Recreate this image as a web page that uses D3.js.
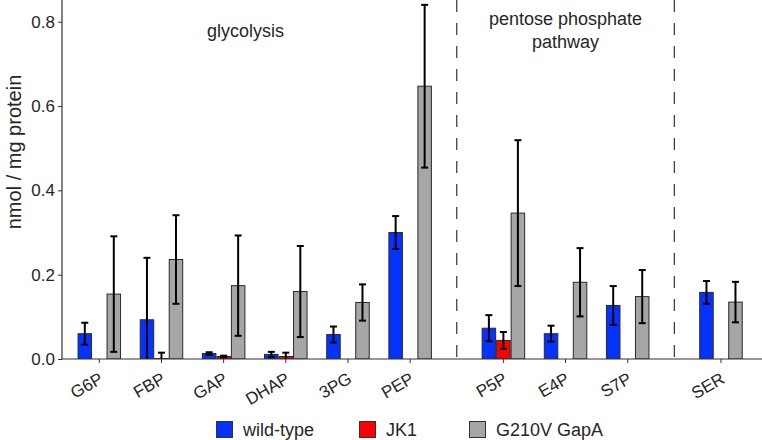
<!DOCTYPE html>
<html><head><meta charset="utf-8">
<script src="https://cdn.jsdelivr.net/npm/d3@7"></script>
<style>body{margin:0;background:#fff}svg{display:block}text{font-family:"Liberation Sans",Arial,sans-serif;fill:#262626}</style>
</head><body><div id="chart"></div>
<script>
const categories = ["G6P","FBP","GAP","DHAP","3PG","PEP","P5P","E4P","S7P","SER"];
const pathway    = ["glycolysis","glycolysis","glycolysis","glycolysis","glycolysis","glycolysis","ppp","ppp","ppp","other"];
const seriesNames = ["wild-type","JK1","G210V GapA"];
const wildType    = [0.060,0.093,0.013,0.011,0.058,0.300,0.073,0.060,0.127,0.158];
const wildTypeErr = [0.026,0.147,0.003,0.006,0.019,0.039,0.031,0.019,0.046,0.027];
const jk1         = [null,0.001,0.006,0.006,null,null,0.044,null,null,null];
const jk1Err      = [null,0.014,0.002,0.009,null,null,0.020,null,null,null];
const gapA        = [0.154,0.236,0.174,0.160,0.134,0.647,0.346,0.182,0.148,0.135];
const gapAErr     = [0.137,0.105,0.119,0.108,0.043,0.193,0.173,0.081,0.063,0.048];
const yTicks = [0,0.2,0.4,0.6,0.8];
const colors = ["#0433FF","#FF0000","#A6A6A6"];

const W=762,H=440;
const L=62,R=762,T=0,B=359;
const svg=d3.select("#chart").append("svg").attr("width",W).attr("height",H);

// positions: half-slot gap between pathway groups
const pos=[];let p=0;
categories.forEach((c,i)=>{ if(i>0){ p+=1; if(pathway[i]!==pathway[i-1]) p+=0.5; } pos.push(p); });
const x=d3.scaleLinear().domain([-0.6,10.66]).range([L,R]);
const y=d3.scaleLinear().domain([0,0.8515]).range([B,T]);

const series=[wildType,jk1,gapA], errs=[wildTypeErr,jk1Err,gapAErr];
const dodge=0.2333;
const bw=x(dodge)-x(0);

svg.append("defs").append("clipPath").attr("id","clip").append("rect")
  .attr("x",L).attr("y",T).attr("width",R-L).attr("height",B-T);
const plot=svg.append("g").attr("clip-path","url(#clip)");

// separators
const seps=[];
for(let i=1;i<categories.length;i++) if(pathway[i]!==pathway[i-1]) seps.push((pos[i]+pos[i-1])/2);
plot.selectAll(".sep").data(seps).enter().append("line")
  .attr("x1",d=>x(d)).attr("x2",d=>x(d)).attr("y1",T).attr("y2",B)
  .attr("stroke","#333").attr("stroke-width",1.2).attr("stroke-dasharray","12,11");

series.forEach((s,k)=>{
  const data=categories.map((c,i)=>({i,v:s[i],e:errs[k][i]})).filter(d=>d.v!=null);
  const off=(k-1)*dodge;
  plot.selectAll(".bar"+k).data(data).enter().append("rect")
    .attr("x",d=>x(pos[d.i]+off)-bw/2+0.5).attr("width",bw-1)
    .attr("y",d=>y(d.v)).attr("height",d=>y(0)-y(d.v))
    .attr("fill",colors[k]).attr("stroke","#2a2a2a").attr("stroke-width",1);
  const eg=plot.selectAll(".err"+k).data(data).enter().append("g").attr("stroke","#000").attr("stroke-width",2);
  eg.append("line").attr("x1",d=>x(pos[d.i]+off)).attr("x2",d=>x(pos[d.i]+off))
    .attr("y1",d=>y(d.v+d.e)).attr("y2",d=>y(d.v-d.e));
  [1,-1].forEach(sg=>{
    eg.append("line").attr("x1",d=>x(pos[d.i]+off)-3.5).attr("x2",d=>x(pos[d.i]+off)+3.5)
      .attr("y1",d=>y(d.v+sg*d.e)).attr("y2",d=>y(d.v+sg*d.e));
  });
});

// axes
const yAxis=svg.append("g").attr("transform",`translate(${L},0)`)
  .call(d3.axisLeft(y).tickValues(yTicks).tickFormat(d3.format(".1f")).tickSize(4).tickPadding(3));
yAxis.select(".domain").remove();
yAxis.selectAll("line").attr("stroke","#333");
yAxis.selectAll("text").attr("font-size",17).style("fill","#262626").attr("font-family","Liberation Sans, Arial, sans-serif");
svg.append("line").attr("x1",L).attr("x2",L).attr("y1",T).attr("y2",B+0.5).attr("stroke","#333").attr("stroke-width",1.2);
svg.append("line").attr("x1",L).attr("x2",R).attr("y1",B).attr("y2",B).attr("stroke","#333").attr("stroke-width",1.2);

const xt=svg.append("g");
xt.selectAll("line").data(categories).enter().append("line")
  .attr("x1",(d,i)=>x(pos[i])).attr("x2",(d,i)=>x(pos[i])).attr("y1",B).attr("y2",B+4).attr("stroke","#333");
xt.selectAll("text").data(categories).enter().append("text")
  .attr("transform",(d,i)=>`translate(${x(pos[i])+5},382) rotate(-30)`)
  .attr("text-anchor","end").attr("font-size",17).text(d=>d);

// y label
svg.append("text").attr("transform",`translate(21,152) rotate(-90)`).attr("text-anchor","middle")
  .attr("font-size",20).text("nmol / mg protein");

// annotations
svg.append("text").attr("x",x(2.35)).attr("y",37).attr("text-anchor","middle").attr("font-size",18).text("glycolysis");
svg.append("text").attr("x",x(pos[7])).attr("y",25).attr("text-anchor","middle").attr("font-size",18).text("pentose phosphate");
svg.append("text").attr("x",x(pos[7])).attr("y",48).attr("text-anchor","middle").attr("font-size",18).text("pathway");

// legend
const lx=[216,359,469];
const lg=svg.append("g");
seriesNames.forEach((n,k)=>{
  lg.append("rect").attr("x",lx[k]+0.5).attr("y",421.5).attr("width",16).attr("height",16)
    .attr("fill",colors[k]).attr("stroke","#333").attr("stroke-width",1);
  lg.append("text").attr("x",lx[k]+27).attr("y",436).attr("font-size",18).text(n);
});
</script></body></html>
